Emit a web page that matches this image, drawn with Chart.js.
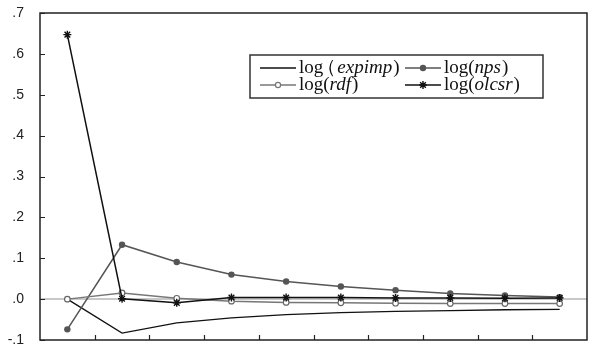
<!DOCTYPE html>
<html>
<head>
<meta charset="utf-8">
<script src="https://cdn.jsdelivr.net/npm/chart.js@4"></script>
<style>
  html, body { margin: 0; padding: 0; background: #fff; }
  #wrap { width: 596px; height: 350px; position: relative; }
</style>
</head>
<body>
<div id="wrap"><canvas id="c" width="596" height="350"></canvas></div>
<script>
// Impulse response periods
const periods = ['1', '2', '3', '4', '5', '6', '7', '8', '9', '10'];

// Responses of each variable
const expimp = [0.000, -0.083, -0.058, -0.046, -0.038, -0.033, -0.030, -0.028, -0.026, -0.025];
const nps    = [-0.074, 0.133, 0.091, 0.060, 0.043, 0.031, 0.022, 0.014, 0.009, 0.005];
const rdf    = [0.000, 0.015, 0.002, -0.005, -0.008, -0.009, -0.010, -0.011, -0.011, -0.011];
const olcsr  = [0.647, 0.001, -0.009, 0.004, 0.004, 0.004, 0.003, 0.003, 0.002, 0.003];

// Y axis range and tick labels
const yMin = -0.1, yMax = 0.7, yStep = 0.1;
const fmtTick = v => {
  if (Math.abs(v) < 1e-9) return '.0';
  return Number(v).toFixed(1).replace('0.', '.');
};

// Legend entries: plain prefix, opening paren, italic variable, closing paren
const legendItems = [
  { pre: 'log', open: '（', it: 'expimp', post: ')', key: 'expimp' },
  { pre: 'log', open: '(', it: 'nps', post: ')', key: 'nps' },
  { pre: 'log', open: '(', it: 'rdf', post: ')', key: 'rdf' },
  { pre: 'log', open: '(', it: 'olcsr', post: ')', key: 'olcsr' }
];

const styles = {
  expimp: { color: '#111', width: 1.3, marker: null },
  nps:    { color: '#555', width: 1.5, marker: 'dot' },
  rdf:    { color: '#777', width: 1.5, marker: 'ring' },
  olcsr:  { color: '#111', width: 1.5, marker: 'star' }
};

function drawMarker(ctx, kind, x, y, color) {
  ctx.save();
  if (kind === 'dot') {
    ctx.fillStyle = color;
    ctx.beginPath(); ctx.arc(x, y, 3.2, 0, Math.PI * 2); ctx.fill();
  } else if (kind === 'ring') {
    ctx.fillStyle = '#fff'; ctx.strokeStyle = color; ctx.lineWidth = 1.2;
    ctx.beginPath(); ctx.arc(x, y, 2.6, 0, Math.PI * 2); ctx.fill(); ctx.stroke();
  } else if (kind === 'star') {
    ctx.strokeStyle = color; ctx.lineWidth = 1.4;
    const r = 4;
    ctx.beginPath();
    for (let k = 0; k < 4; k++) {
      const a = k * Math.PI / 4;
      ctx.moveTo(x - r * Math.cos(a), y - r * Math.sin(a));
      ctx.lineTo(x + r * Math.cos(a), y + r * Math.sin(a));
    }
    ctx.stroke();
  }
  ctx.restore();
}

const SERIF = '"Liberation Serif", "Times New Roman", serif';

const framePlugin = {
  id: 'frame',
  afterDraw(chart) {
    const { ctx, chartArea: { left, right, top, bottom }, scales: { x, y } } = chart;
    ctx.save();
    ctx.strokeStyle = '#222';
    ctx.lineWidth = 1.5;
    ctx.strokeRect(left, top, right - left, bottom - top);

    // inward tick marks
    ctx.lineWidth = 1.2;
    ctx.beginPath();
    y.ticks.forEach(t => {
      const py = Math.round(y.getPixelForValue(t.value)) + 0.5;
      ctx.moveTo(left, py); ctx.lineTo(left + 5, py);
    });
    for (let i = 1; i < periods.length; i++) {
      const px = Math.round((x.getPixelForValue(i - 1) + x.getPixelForValue(i)) / 2) + 0.5;
      ctx.moveTo(px, bottom); ctx.lineTo(px, bottom - 5);
    }
    ctx.stroke();

    // legend box
    const bx = 250, by = 55, bw = 293, bh = 43;
    ctx.fillStyle = '#fff';
    ctx.fillRect(bx, by, bw, bh);
    ctx.strokeStyle = '#333';
    ctx.lineWidth = 1.5;
    ctx.strokeRect(bx, by, bw, bh);

    const cols = [260, 405];
    const rows = [68, 85];
    legendItems.forEach((item, i) => {
      const cx = cols[i % 2], cy = rows[Math.floor(i / 2)];
      const st = styles[item.key];
      ctx.strokeStyle = st.color;
      ctx.lineWidth = st.width;
      ctx.beginPath(); ctx.moveTo(cx, cy); ctx.lineTo(cx + 36, cy); ctx.stroke();
      if (st.marker) drawMarker(ctx, st.marker, cx + 18, cy, st.color);

      let tx = cx + 39;
      ctx.fillStyle = '#111';
      ctx.textBaseline = 'middle';
      ctx.textAlign = 'left';
      ctx.font = '19px ' + SERIF;
      ctx.fillText(item.pre, tx, cy);
      tx += ctx.measureText(item.pre).width;
      if (item.open === '（') {
        // full-width paren: glyph sits in the right part of its em box
        ctx.fillText(item.open, tx - 6, cy);
        tx += 14;
      } else {
        ctx.fillText(item.open, tx, cy);
        tx += ctx.measureText(item.open).width;
      }
      ctx.font = 'italic 19px ' + SERIF;
      ctx.fillText(item.it, tx, cy);
      tx += ctx.measureText(item.it).width + 1;
      ctx.font = '19px ' + SERIF;
      ctx.fillText(item.post, tx, cy);
    });
    ctx.restore();
  }
};

new Chart(document.getElementById('c'), {
  type: 'line',
  data: {
    labels: periods,
    datasets: [
      {
        label: 'log(olcsr)', data: olcsr, order: 0,
        borderColor: styles.olcsr.color, borderWidth: styles.olcsr.width,
        pointStyle: 'star', pointRadius: 4, pointBorderWidth: 1.4,
        pointBorderColor: '#111', pointBackgroundColor: '#111', tension: 0
      },
      {
        label: 'log(rdf)', data: rdf, order: 1,
        borderColor: styles.rdf.color, borderWidth: styles.rdf.width,
        pointStyle: 'circle', pointRadius: 2.8, pointBorderWidth: 1.2,
        pointBorderColor: '#666', pointBackgroundColor: '#fff', tension: 0
      },
      {
        label: 'log(nps)', data: nps, order: 2,
        borderColor: styles.nps.color, borderWidth: styles.nps.width,
        pointStyle: 'circle', pointRadius: 3.2, pointBorderWidth: 0,
        pointBackgroundColor: '#555', tension: 0
      },
      {
        label: 'log(expimp)', data: expimp, order: 3,
        borderColor: styles.expimp.color, borderWidth: styles.expimp.width,
        pointRadius: 0, tension: 0
      }
    ]
  },
  options: {
    responsive: false,
    animation: false,
    devicePixelRatio: 1,
    layout: { padding: { top: 13, right: 9, left: 0, bottom: 0 } },
    plugins: { legend: { display: false }, tooltip: { enabled: false } },
    scales: {
      x: {
        type: 'category',
        offset: true,
        ticks: { display: false },
        grid: { display: false, drawTicks: false },
        border: { display: false },
        afterFit: s => { s.height = 10; s.paddingLeft = 0; s.paddingRight = 0; }
      },
      y: {
        min: yMin, max: yMax,
        ticks: {
          stepSize: yStep,
          padding: 16,
          color: '#222',
          font: { family: '"Liberation Sans", Arial, sans-serif', size: 14 },
          callback: v => fmtTick(v)
        },
        grid: {
          drawTicks: false,
          color: c => (c.tick && Math.abs(c.tick.value) < 1e-9) ? '#c8c8c8' : 'rgba(0,0,0,0)',
          lineWidth: 2
        },
        border: { display: false },
        afterFit: s => { s.width = 40; s.paddingTop = 0; s.paddingBottom = 0; }
      }
    }
  },
  plugins: [framePlugin]
});
</script>
</body>
</html>
